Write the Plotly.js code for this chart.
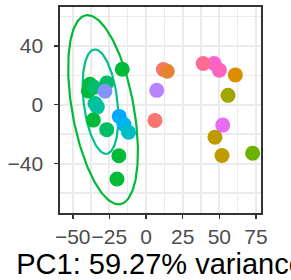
<!DOCTYPE html>
<html>
<head>
<meta charset="utf-8">
<script src="https://cdn.plot.ly/plotly-3.0.1.min.js"></script>
<style>html,body{margin:0;padding:0;background:#fff;}#chart{width:291px;height:280px;}</style>
</head>
<body>
<div id="chart"></div>
<script>
// Sample scores (PC1, PC2) and colours, in drawing order
const pc1 = [-39.3, -38.2, -35.5, -26.8, -28.0, -34.8, -33.2, -35.9, -26.8, -18.3, -15.0, -11.9, -16.2, -18.5, -19.8,
             11.8, 14.5, 7.3, 6.1, 46.4, 39.0, 50.0, 60.9, 55.9, 47.0, 52.3, 51.8, 72.7];
const pc2 = [9.3, 13.8, 11.8, 14.7, 9.1, 0.8, -1.5, -10.5, -17.0, -8.0, -13.5, -18.8, 24.0, -34.7, -50.5,
             23.9, 22.7, 9.7, -10.7, 27.9, 27.9, 23.4, 20.2, 6.3, -22.1, -13.9, -34.6, -33.0];
const pointColors = ['#00BA38', '#00BA38', '#00BE67', '#00BE67', '#8494FF', '#00C08B', '#00C1A3', '#00BA38', '#00BE67',
                     '#00A9FF', '#00B4EF', '#00BFC4', '#00BA38', '#00BA38', '#00BA38',
                     '#F8766D', '#EA8331', '#B983FF', '#F8766D', '#FD61D1', '#FF6C91', '#FF62BC', '#DB8E00',
                     '#A3A500', '#C09B00', '#E76BF3', '#C09B00', '#6BB100'];

// Ellipses: centre, semi-axes and rotation (degrees)
const ellCx = [-29.3, -31.05];
const ellCy = [-3.5, 2.05];
const ellA = [65.2, 35.7];
const ellB = [21.0, 11.5];
const ellAngle = [100.4, 96.8];
const ellColors = ['#00BA38', '#00C08B'];

const xTicks = [-50, -25, 0, 25, 50, 75];
const yTicks = [-40, 0, 40];
const xTitle = 'PC1: 59.27% variance';

const traces = [];
for (let k = 0; k < ellCx.length; k++) {
  const ex = [], ey = [];
  const th = ellAngle[k] * Math.PI / 180;
  for (let i = 0; i <= 200; i++) {
    const t = 2 * Math.PI * i / 200;
    const u = ellA[k] * Math.cos(t), v = ellB[k] * Math.sin(t);
    ex.push(ellCx[k] + u * Math.cos(th) - v * Math.sin(th));
    ey.push(ellCy[k] + u * Math.sin(th) + v * Math.cos(th));
  }
  traces.push({x: ex, y: ey, type: 'scatter', mode: 'lines', line: {color: ellColors[k], width: 2.2}, hoverinfo: 'skip', showlegend: false});
}
traces.push({
  x: pc1, y: pc2, type: 'scatter', mode: 'markers',
  marker: {color: pointColors, size: 15, line: {width: 0}},
  showlegend: false
});

const axisCommon = {
  showgrid: true, gridcolor: '#EBEBEB', gridwidth: 2,
  zeroline: false, showline: true, mirror: true, linecolor: '#333333', linewidth: 1.6,
  ticks: 'outside', ticklen: 4, tickcolor: '#333333', tickwidth: 1.6,
  tickfont: {family: 'Liberation Sans, Arial, sans-serif', size: 21, color: '#4D4D4D'},
  tickangle: 0,
  minor: {showgrid: true, gridcolor: '#EBEBEB', gridwidth: 1.2}
};

const layout = {
  width: 291, height: 280,
  margin: {l: 60, r: 30, t: 7, b: 67.3},
  paper_bgcolor: '#FFFFFF', plot_bgcolor: '#FFFFFF',
  xaxis: Object.assign({}, axisCommon, {
    range: [-58.66, 78.4], tickvals: xTicks, ticktext: xTicks.map(v => v < 0 ? '\u2212' + Math.abs(v) : String(v)),
    minor: Object.assign({}, axisCommon.minor, {tickvals: [-37.5, -12.5, 12.5, 37.5, 62.5]}),
    title: {text: xTitle, font: {family: 'Liberation Sans, Arial, sans-serif', size: 29, color: '#000000'}, standoff: 1}
  }),
  yaxis: Object.assign({}, axisCommon, {
    range: [-73.6, 66.3], tickvals: yTicks, ticktext: yTicks.map(v => v < 0 ? '\u2212' + Math.abs(v) : String(v)),
    ticklabelstandoff: 7,
    minor: Object.assign({}, axisCommon.minor, {tickvals: [-60, -20, 20, 60]})
  }),
  font: {family: 'Liberation Sans, Arial, sans-serif'}
};

Plotly.newPlot('chart', traces, layout, {displayModeBar: false, staticPlot: true});
</script>
</body>
</html>
